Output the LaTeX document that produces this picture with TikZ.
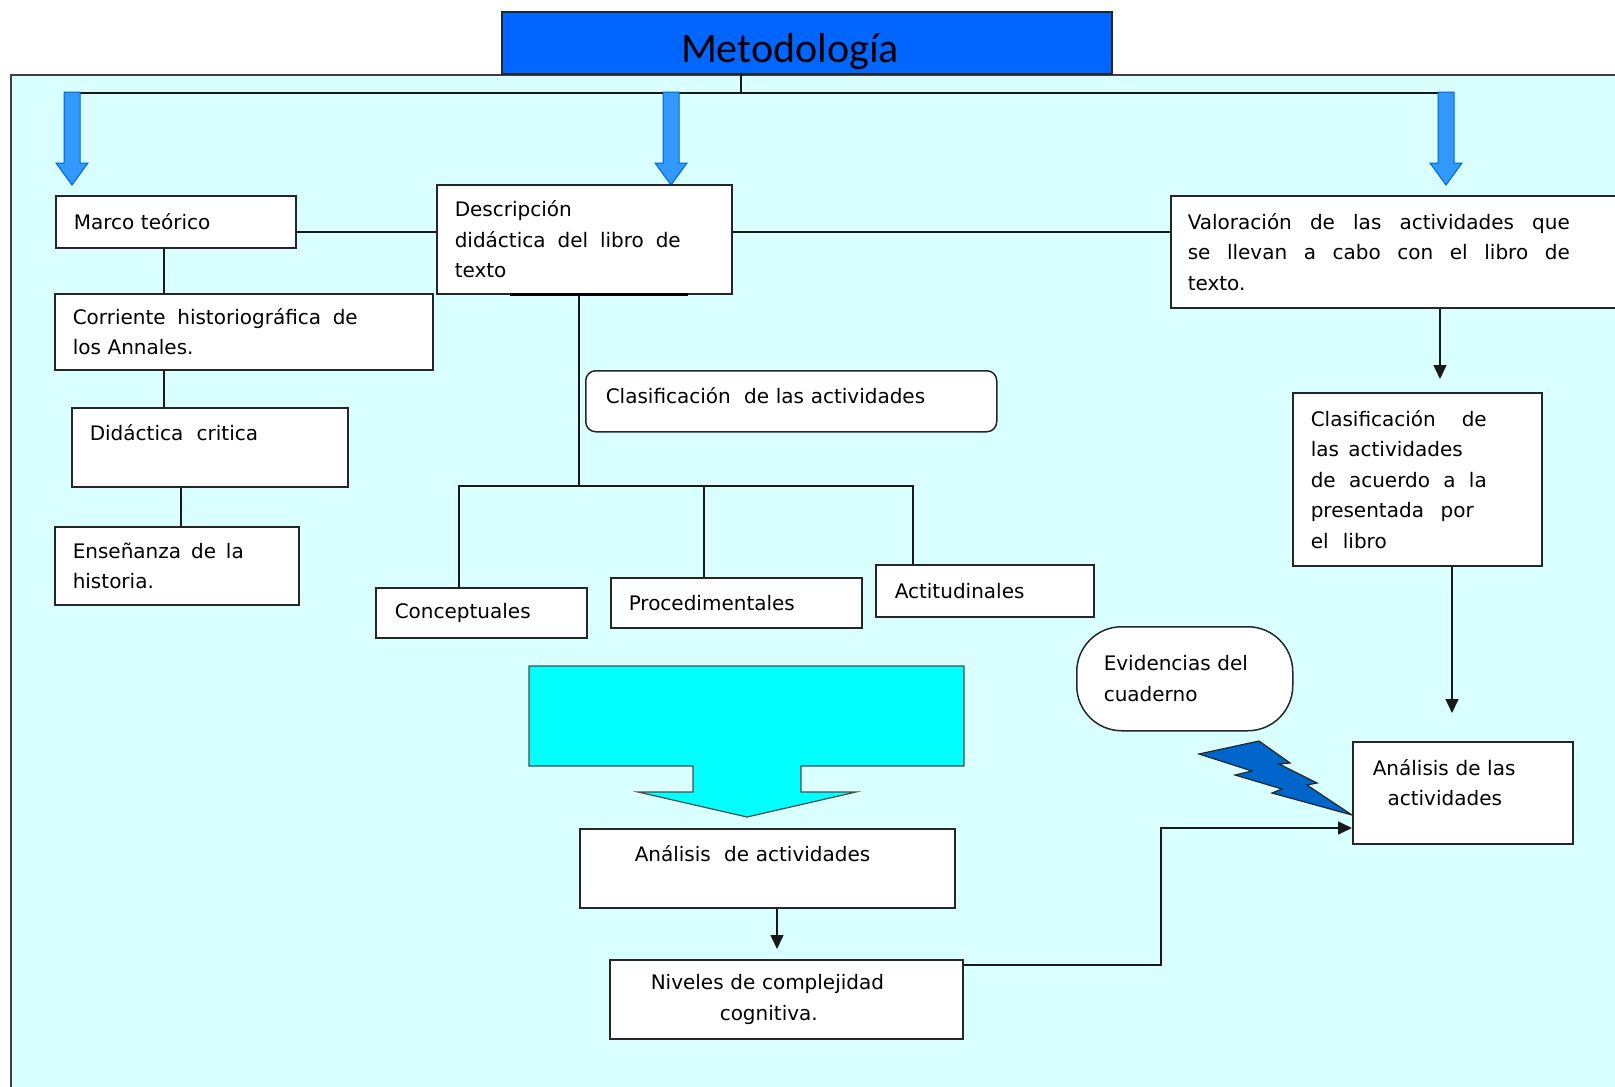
\documentclass[tikz,border=0pt]{standalone}
\usepackage{fontspec}
\setmainfont{DejaVu Sans}
\newfontfamily\titlefont{Carlito}
\usetikzlibrary{positioning}
\usetikzlibrary{arrows.meta}

\definecolor{fondo}{RGB}{217,255,255}
\definecolor{azultitulo}{RGB}{0,102,255}
\definecolor{azulflecha}{RGB}{51,153,255}
\definecolor{azulrayo}{RGB}{0,102,204}
\definecolor{cian}{RGB}{0,255,255}

% linea justificada a un ancho dado
\newcommand{\justo}[2]{\leavevmode\hbox to #1{\spaceskip=0.32em plus 1fil\relax #2}}

\tikzset{
  caja/.style={draw=black!85, fill=white, line width=1.5pt, anchor=north west, align=left, inner ysep=0pt, font=\fontsize{20}{30.5}\selectfont},
  linea/.style={draw=black!90, line width=1.5pt},
  flecha/.style={linea, -{Triangle[length=14pt, width=13pt]}},
  bloque/.style={fill=azulflecha, draw=azulrayo, line width=1pt},
}

\begin{document}
\begin{tikzpicture}[x=1pt, y=-1pt]
    \useasboundingbox (0,0) rectangle (1615,1087);
    % fondo %
    \fill[fondo] (11,75) rectangle (1625,1097);
    \draw[black!75, line width=2pt] (11,1097) -- (11,75) -- (1625,75);
    % titulo %
    \node[draw=black!85, fill=azultitulo, line width=1.5pt, minimum width=610pt, minimum height=62pt, inner ysep=0pt, text height=40pt, text depth=2pt, font=\titlefont\fontsize{42}{42}\selectfont] (titulo) at (807,43) {Metodología\hspace*{34pt}};
    \coordinate (bus) at (741,93);
    \coordinate (f1) at (72,93);
    \coordinate (f3) at (1446,93);
    \draw[linea] (bus |- titulo.south) -- (bus);
    \draw[linea] (f1) -- (f3);
    \foreach \ax in {72, 671, 1446}
        \draw[bloque] (\ax-8,92) -- (\ax+8,92) -- (\ax+8,163) -- (\ax+16,163) -- (\ax,185) -- (\ax-16,163) -- (\ax-8,163) -- cycle;
    % flecha cian y rayo %
    \draw[fill=cian, draw=black!70, line width=1.2pt] (529,666) -- (964,666) -- (964,766) -- (801,766) -- (801,792) -- (856,792) -- (747,817) -- (638,792) -- (693,792) -- (693,766) -- (529,766) -- cycle;
    \draw[fill=azulrayo, draw=black!85, line width=1.2pt] (1199,754) -- (1259,741) -- (1290,763) -- (1279,764) -- (1317,783) -- (1307,785) -- (1352,815) -- (1272,793) -- (1282,789) -- (1235,775) -- (1252,771) -- cycle;
    % cajas %
    \node[caja, text width=204pt, inner xsep=18pt, minimum height=52pt] (marco) at (55,195) {Marco teórico};
    \node[caja, text width=259pt, inner xsep=18pt, minimum height=109pt] (desc) at (436,184) {Descripción\\\justo{226pt}{didáctica del libro de}\\texto};
    \node[caja, text width=426pt, inner xsep=17pt, minimum height=112pt] (valor) at (1170,195) {\justo{382pt}{Valoración de las actividades que}\\\justo{382pt}{se llevan a cabo con el libro de}\\texto.};
    \node[caja, text width=342pt, inner xsep=18pt, minimum height=76pt] (corr) at (54,293) {\justo{285pt}{Corriente historiográfica de}\\los Annales.};
    \node[caja, text width=240pt, inner xsep=18pt, minimum height=79pt] (didac) at (71,407) {Didáctica~ critica\\\mbox{}};
    \node[caja, text width=208pt, inner xsep=18pt, minimum height=78pt] (ense) at (54,526) {\justo{171pt}{Enseñanza de la}\\historia.};
    \node[caja, rounded corners=10pt, text width=371pt, inner xsep=20pt, minimum height=61pt] (clasif) at (585,370) {Clasificación~ de las actividades\\[-18pt]\mbox{}};
    \node[caja, text width=173pt, inner xsep=19pt, minimum height=50pt] (conc) at (375,587) {Conceptuales};
    \node[caja, text width=215pt, inner xsep=18pt, minimum height=50pt] (proc) at (610,577) {Procedimentales};
    \node[caja, text width=180pt, inner xsep=19pt, minimum height=52pt] (acti) at (875,564) {Actitudinales};
    \node[caja, text width=213pt, inner xsep=18pt, minimum height=173pt] (clasder) at (1292,392) {\justo{176pt}{Clasificación de}\\\justo{152pt}{las actividades}\\\justo{176pt}{de acuerdo a la}\\\justo{163pt}{presentada por}\\\justo{76pt}{el libro}};
    \node[caja, rounded corners=45pt, text width=162pt, inner xsep=27pt, minimum height=104pt] (evid) at (1076,626) {Evidencias del\\cuaderno};
    \node[caja, text width=180pt, inner xsep=20pt, minimum height=102pt] (anact) at (1352,741) {Análisis de las\\\makebox[144pt]{actividades}\\[-10pt]\mbox{}};
    \node[caja, text width=265pt, inner xsep=55pt, minimum height=79pt] (anal) at (579,828) {Análisis~ de actividades\\\mbox{}};
    \node[caja, text width=271pt, inner xsep=41pt, minimum height=79pt] (nivel) at (609,959) {Niveles de complejidad\\\makebox[236pt]{cognitiva.}};
    \draw[line width=2.5pt] ([xshift=74pt]desc.south west) -- ([xshift=-45pt]desc.south east);
    % conectores %
    \coordinate (fila) at (0,232);
    \draw[linea] (marco.east |- fila) -- (desc.west |- fila);
    \draw[linea] (desc.east |- fila) -- (valor.west |- fila);
    \coordinate (izq) at (164,0);
    \draw[linea] (marco.south -| izq) -- (corr.north -| izq);
    \draw[linea] (corr.south -| izq) -- (didac.north -| izq);
    \coordinate (izq2) at (181,0);
    \draw[linea] (didac.south -| izq2) -- (ense.north -| izq2);
    \coordinate (nudo) at (579,486);
    \coordinate (r1) at (459,486);
    \coordinate (r2) at (704,486);
    \coordinate (r3) at (913,486);
    \draw[linea] (desc.south -| nudo) -- (nudo);
    \draw[linea] (r1 |- conc.north) -- (r1) -- (r3) -- (r3 |- acti.north);
    \draw[linea] (r2) -- (r2 |- proc.north);
    \coordinate (der) at (1440,0);
    \draw[flecha, shorten >=13pt] (valor.south -| der) -- (clasder.north -| der);
    \coordinate (der2) at (1452,0);
    \draw[flecha, shorten >=28pt] (clasder.south -| der2) -- (anact.north -| der2);
    \coordinate (baja) at (777,0);
    \draw[flecha, shorten >=10pt] (anal.south -| baja) -- (nivel.north -| baja);
    \coordinate (codo) at (1161,965);
    \coordinate (codo2) at (1161,828);
    \draw[flecha] (nivel.east |- codo) -- (codo) -- (codo2) -- (anact.west |- codo2);
\end{tikzpicture}
\end{document}
